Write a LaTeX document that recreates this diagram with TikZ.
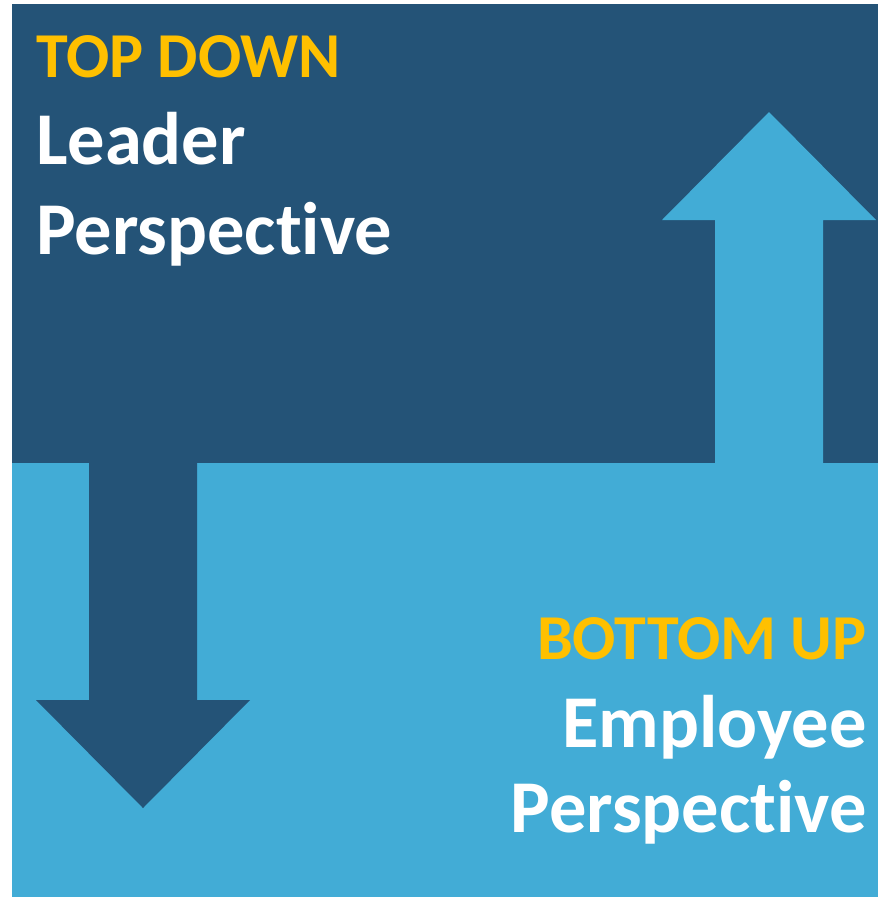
\documentclass[tikz,border=0pt]{standalone}
\usepackage{fontspec}
\setmainfont[RawFeature=-liga]{Carlito}
\definecolor{darkblue}{RGB}{36,83,119}
\definecolor{lightblue}{RGB}{66,172,214}
\definecolor{gold}{RGB}{255,192,0}
\begin{document}
\begin{tikzpicture}[x=1pt,y=-1pt,
  lbl/.style={inner sep=0pt,font=\bfseries\fontsize{74.5}{74.5}\selectfont,text=white},
  head/.style={inner sep=0pt,font=\bfseries\fontsize{64}{64}\selectfont,text=gold}]
\useasboundingbox (0,0) rectangle (878,898);
\fill[white] (0,0) rectangle (878,898);
% panels
\fill[darkblue] (12,4) rectangle (878,463);
\fill[lightblue] (12,463) rectangle (878,897);
% down arrow
\fill[darkblue] (89,462) -- (197,462) -- (197,700) -- (250,700) -- (143,808) -- (36,700) -- (89,700) -- cycle;
% up arrow
\fill[lightblue] (715,464) -- (823,464) -- (823,220) -- (876,220) -- (769,112) -- (662,220) -- (715,220) -- cycle;
% top-left texts
\node[head,anchor=base west] (td) at (36,77) {TOP DOWN};
\node[lbl,anchor=base west] (leader) at (36,164) {Leader};
\node[lbl,anchor=base west] (lp) at (36,254) {Perspective};
% bottom-right texts
\node[head,anchor=base east] (bu) at (867,659) {BOTTOM UP};
\node[lbl,anchor=base east] (emp) at (867,747) {Employee};
\node[lbl,anchor=base east] (ep) at (867,832) {Perspective};
\end{tikzpicture}
\end{document}
